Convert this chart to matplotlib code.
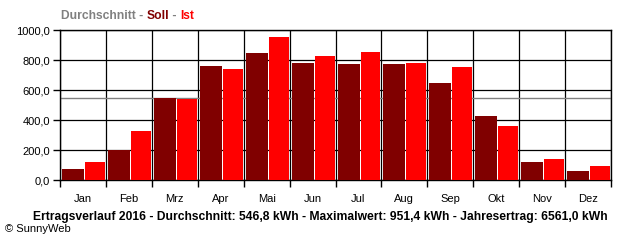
import matplotlib
matplotlib.use("Agg")
import matplotlib.pyplot as plt
import numpy as np

months = ["Jan", "Feb", "Mrz", "Apr", "Mai", "Jun", "Jul", "Aug", "Sep", "Okt", "Nov", "Dez"]
soll = [73, 200, 547, 760, 849, 782, 773, 773, 647, 427, 120, 60]
ist = [120, 327, 538, 740, 951.4, 827, 853, 780, 753, 360, 140, 93]
average = 546.8
yticks = [0, 200, 400, 600, 800, 1000]
ytick_labels = ["0,0", "200,0", "400,0", "600,0", "800,0", "1000,0"]
footer = "Ertragsverlauf 2016 - Durchschnitt: 546,8 kWh - Maximalwert: 951,4 kWh - Jahresertrag: 6561,0 kWh"

plt.rcParams['font.family'] = ['Liberation Sans', 'DejaVu Sans']

fig = plt.figure(figsize=(6.4, 2.4), dpi=100)
ax = fig.add_axes([60/640, 1 - 180/240, (611-60)/640, 150/240])

x = np.arange(len(months))
ax.bar(x + 0.044, soll, width=0.479, align='edge', color='#800000', zorder=3, linewidth=0)
ax.bar(x + 0.545, ist, width=0.435, align='edge', color='#FF0000', zorder=3, linewidth=0)
ax.axhline(average, color='#808080', linewidth=1.0, zorder=2)

ax.set_xlim(0, 12)
ax.set_ylim(0, 1000)
ax.set_yticks(yticks)
ax.set_yticklabels(ytick_labels, fontsize=8)
ax.set_xticks(np.arange(13))
ax.set_xticklabels([])
ax.set_xticks(x + 0.5, minor=True)
ax.set_xticklabels(months, minor=True, fontsize=8)
ax.tick_params(axis='x', which='minor', length=0, pad=10)
ax.tick_params(axis='x', which='major', length=5, width=1, direction='out', color='black')
ax.tick_params(axis='y', length=5, width=1, direction='out', pad=2)
ax.grid(True, which='major', color='black', linewidth=0.9, zorder=1)
ax.set_axisbelow(True)
for s in ax.spines.values():
    s.set_linewidth(1.0)
    s.set_color('black')

# Title with colored parts
fy = 1 - 16/240
fs_t = 8.7
t1 = fig.text(61/640, fy, "Durchschnitt - ", color='#808080', fontsize=fs_t, fontweight='bold', va='center')
fig.canvas.draw()
r = fig.canvas.get_renderer()
bb = t1.get_window_extent(r)
t2 = fig.text(bb.x1/640, fy, "Soll", color='#800000', fontsize=fs_t, fontweight='bold', va='center')
bb = t2.get_window_extent(r)
t3 = fig.text(bb.x1/640, fy, " - ", color='#808080', fontsize=fs_t, fontweight='bold', va='center')
bb = t3.get_window_extent(r)
fig.text(bb.x1/640, fy, "Ist", color='#FF0000', fontsize=fs_t, fontweight='bold', va='center')

fig.text(320/640, 1 - 217/240, footer, fontsize=8.7, fontweight='bold', ha='center', va='center')
fig.text(5/640, 1 - 229/240, "© SunnyWeb", fontsize=8, ha='left', va='center')

fig.savefig("out.png", dpi=100, facecolor='white')
